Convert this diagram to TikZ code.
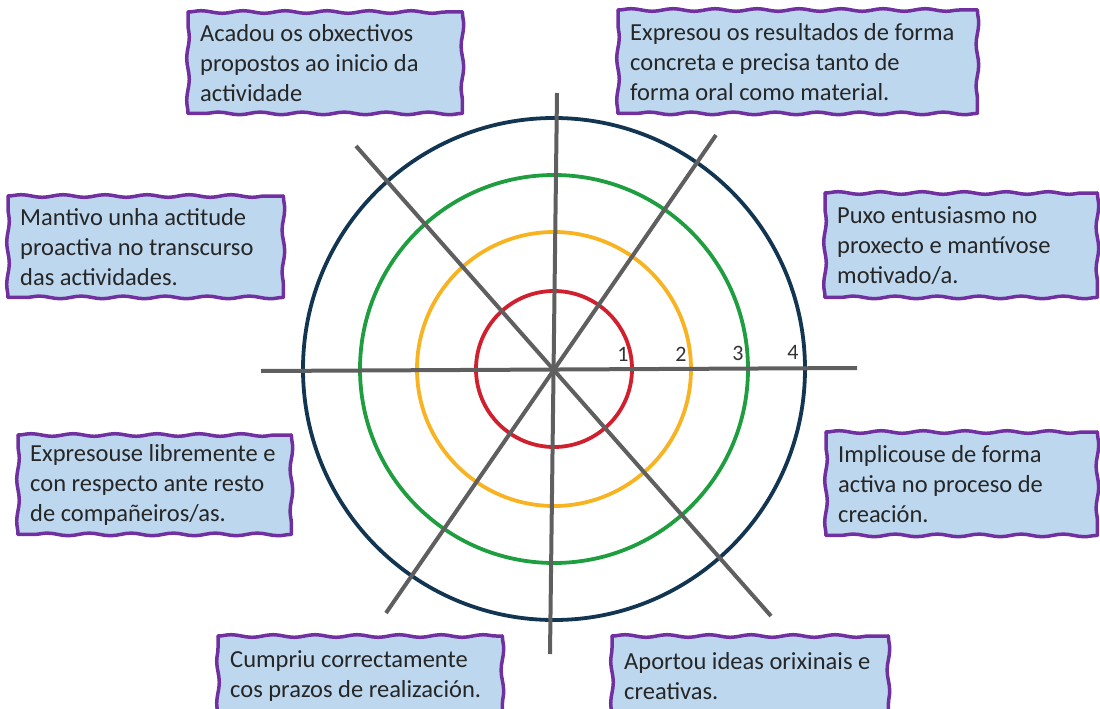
\documentclass[tikz,border=0pt]{standalone}
\usepackage{fontspec}
\setmainfont{Carlito}
\usetikzlibrary{decorations.pathmorphing}
\definecolor{boxfill}{HTML}{BDD7EE}
\definecolor{boxline}{HTML}{7030A0}
\definecolor{spokegray}{HTML}{5F5F5F}
\definecolor{ringred}{HTML}{D0202E}
\definecolor{ringorange}{HTML}{F7B322}
\definecolor{ringgreen}{HTML}{1F9E40}
\definecolor{ringblue}{HTML}{123552}

\begin{document}
\begin{tikzpicture}[x=1pt, y=-1pt,
					critbox/.style={fill=boxfill, anchor=north west, inner sep=0pt},
					crittext/.style={anchor=west, align=left, inner sep=0pt,
						font=\fontsize{24.5}{30}\selectfont, text=black!85},
					wavy/.style={draw=boxline, line width=3.5pt, line cap=round,
						decorate, decoration={snake, segment length=42pt, amplitude=1.3pt}},
					ring/.style={line width=3.8pt},
					spoke/.style={draw=spokegray, line width=4pt},
					level/.style={font=\fontsize{22}{22}\selectfont, text=black!80}]
\useasboundingbox (0,0) rectangle (1100,709);

% rings
\coordinate (c) at (554,369);
\draw[ring, ringblue] (c) circle (251);
\draw[ring, ringgreen] (c) circle (194);
\draw[ring, ringorange] (c) circle (137);
\draw[ring, ringred] (c) circle (78);

% spokes
\coordinate (w) at (261,371);
\coordinate (e) at (857,368);
\coordinate (n) at (557,93);
\coordinate (s) at (550,654);
\coordinate (nw) at (356,146);
\coordinate (se) at (771,616);
\coordinate (ne) at (716,135);
\coordinate (sw) at (386,613);
\draw[spoke] (w) -- (e);
\draw[spoke] (n) -- (s);
\draw[spoke] (nw) -- (se);
\draw[spoke] (ne) -- (sw);

% levels
\node[level] (l1) at (623,354) {1};
\node[level] (l2) at (681,354) {2};
\node[level] (l3) at (738,353) {3};
\node[level] (l4) at (793,352) {4};

% criteria boxes
\node[critbox, minimum width=274pt, minimum height=101pt] (obx) at (188,12) {};
\node[critbox, minimum width=359pt, minimum height=103pt] (res) at (618,10) {};
\node[critbox, minimum width=275pt, minimum height=101pt] (act) at (8,196) {};
\node[critbox, minimum width=272pt, minimum height=104pt] (ent) at (825,193) {};
\node[critbox, minimum width=273pt, minimum height=99pt] (lib) at (18,435) {};
\node[critbox, minimum width=271pt, minimum height=103pt] (imp) at (826,432) {};
\node[critbox, minimum width=284pt, minimum height=80pt] (pra) at (218,636) {};
\node[critbox, minimum width=276pt, minimum height=80pt] (ide) at (612,636) {};

% criteria texts
\node[crittext] (obxt) at ([xshift=12pt]obx.west)
	{Acadou os obxectivos\\propostos ao inicio da\\actividade};
\node[crittext] (rest) at ([xshift=12pt]res.west)
	{Expresou os resultados de forma\\concreta e precisa tanto de\\forma oral como material.};
\node[crittext] (actt) at ([xshift=12pt]act.west)
	{Mantivo unha actitude\\proactiva no transcurso\\das actividades.};
\node[crittext] (entt) at ([xshift=12pt]ent.west)
	{Puxo entusiasmo no\\proxecto e mantívose\\motivado/a.};
\node[crittext] (libt) at ([xshift=12pt]lib.west)
	{Expresouse libremente e\\con respecto ante resto\\de compañeiros/as.};
\node[crittext] (impt) at ([xshift=12pt]imp.west)
	{Implicouse de forma\\activa no proceso de\\creación.};
\node[crittext] (prat) at ([xshift=12pt]pra.west)
	{Cumpriu correctamente\\cos prazos de realización.};
\node[crittext] (idet) at ([xshift=12pt]ide.west)
	{Aportou ideas orixinais e\\creativas.};

% wavy borders
\foreach \b in {obx,res,act,ent,lib,imp,pra,ide} {
	\draw[wavy] (\b.north west) -- (\b.north east);
	\draw[wavy] (\b.north east) -- (\b.south east);
	\draw[wavy] (\b.south east) -- (\b.south west);
	\draw[wavy] (\b.south west) -- (\b.north west);
}
\end{tikzpicture}
\end{document}
